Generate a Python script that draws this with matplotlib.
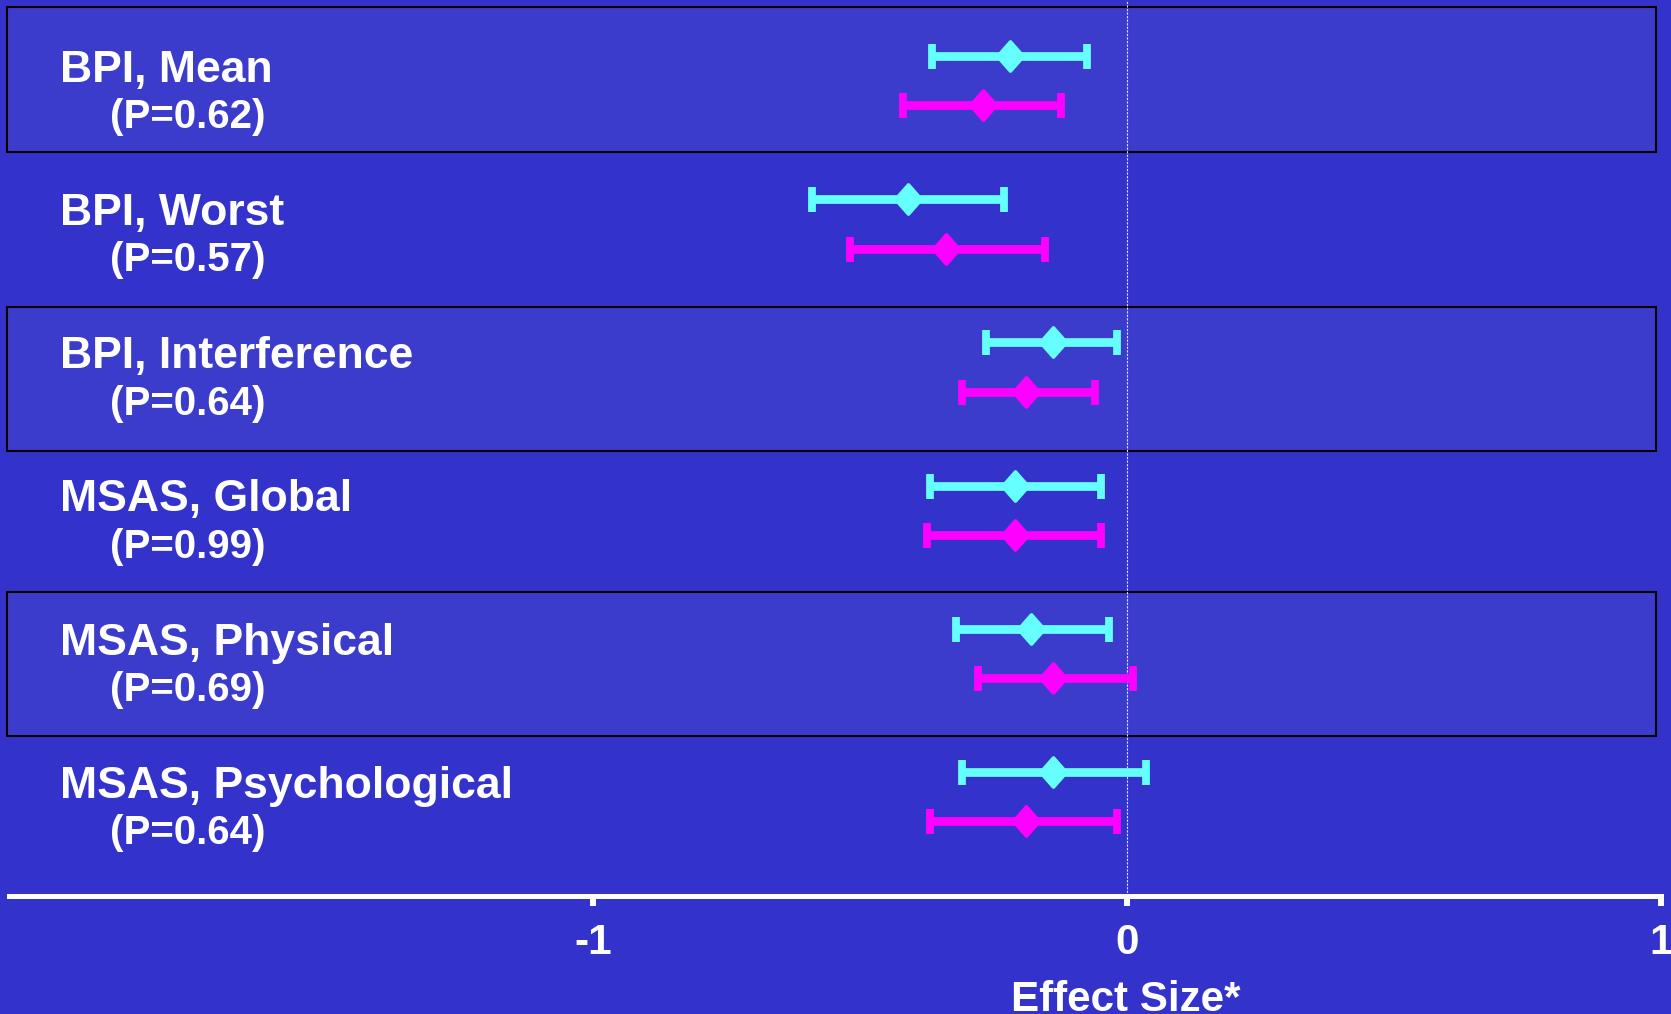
import matplotlib
matplotlib.use("Agg")
import matplotlib.pyplot as plt
from matplotlib.markers import MarkerStyle
from matplotlib.patches import Rectangle
import numpy as np

# ---- data -------------------------------------------------------------
measures = ["BPI, Mean", "BPI, Worst", "BPI, Interference",
            "MSAS, Global", "MSAS, Physical", "MSAS, Psychological"]
p_values = ["(P=0.62)", "(P=0.57)", "(P=0.64)", "(P=0.99)", "(P=0.69)", "(P=0.64)"]

cyan_mean = [-0.22, -0.41, -0.14, -0.21, -0.18, -0.14]
cyan_lo = [-0.365, -0.59, -0.265, -0.37, -0.32, -0.31]
cyan_hi = [-0.075, -0.23, -0.02, -0.05, -0.035, 0.035]

magenta_mean = [-0.27, -0.34, -0.19, -0.21, -0.14, -0.19]
magenta_lo = [-0.42, -0.52, -0.31, -0.375, -0.28, -0.37]
magenta_hi = [-0.125, -0.155, -0.06, -0.05, 0.01, -0.02]

x_ticks = [-1, 0, 1]
x_tick_labels = ["-1", "0", "1"]
x_label = "Effect Size*"

# ---- style ------------------------------------------------------------
BG = "#3333CC"
BAND = "#3C3CCC"
CYAN = "#66FFFF"
MAGENTA = "#FF00FF"
FONT = "Liberation Sans"

W, H, DPI = 1671, 1014, 100
fig = plt.figure(figsize=(W / DPI, H / DPI), dpi=DPI, facecolor=BG)

# axes: bottom spine is the white effect-size axis
ax_left_px, ax_right_px, ax_bottom_px = 8.5, 1661.0, 895.7
ax = fig.add_axes([ax_left_px / W, (H - ax_bottom_px) / H,
                   (ax_right_px - ax_left_px) / W, ax_bottom_px / H])
ax.set_facecolor(BG)
ax.set_xlim(-2.096, 1.0)
ax.set_ylim(5.691, -0.5636)

for side in ("top", "left", "right"):
    ax.spines[side].set_visible(False)
ax.spines["bottom"].set_color("white")
ax.spines["bottom"].set_linewidth(3.6)
ax.set_yticks([])
ax.set_xticks(x_ticks)
ax.set_xticklabels(x_tick_labels, fontsize=30.5, fontweight="bold",
                   color="white", family=FONT)
ax.tick_params(axis="x", direction="out", length=7.5, width=4.3,
               color="white", pad=12.5)

# alternating framed bands
band_spans = [(-0.513, 0.496), (1.578, 2.584), (3.5705, 4.574)]
for top, bottom in band_spans:
    ax.add_patch(Rectangle((-2.098, top), 0.99 + 2.098, bottom - top,
                           facecolor=BAND, edgecolor="black",
                           linewidth=1.5, zorder=0.5, clip_on=False))

# zero reference line
ax.axvline(0, color="#E0E0FF", linewidth=0.8, linestyle=(0, (2, 1.2)), zorder=1)

diamond = MarkerStyle(np.array([(-0.88, 0.0), (0.0, 1.0), (0.88, 0.0),
                                (0.0, -1.0), (-0.88, 0.0)]),
                      joinstyle="round")

rows = np.arange(len(measures))
offset = 0.1725
series = [
    (cyan_mean, cyan_lo, cyan_hi, CYAN, -offset),
    (magenta_mean, magenta_lo, magenta_hi, MAGENTA, offset),
]
for mean, lo, hi, color, dy in series:
    mean = np.asarray(mean)
    err = [mean - np.asarray(lo), np.asarray(hi) - mean]
    # capsize is half the cap length in errorbar
    ax.errorbar(mean, rows + dy, xerr=err, fmt="none", ecolor=color,
                elinewidth=6.3, capsize=9, capthick=5.6, zorder=3)
    ax.plot(mean, rows + dy, linestyle="none", marker=diamond,
            markersize=21, markerfacecolor=color, markeredgecolor=color,
            markeredgewidth=2.6, zorder=4)

# row labels
for i, (name, p) in enumerate(zip(measures, p_values)):
    ax.text(-2.0, i + 0.007, name, fontsize=32, fontweight="bold",
            color="white", family=FONT, va="baseline", ha="left", zorder=5)
    ax.text(-1.905, i + 0.332, p, fontsize=29, fontweight="bold",
            color="white", family=FONT, va="baseline", ha="left", zorder=5)

# axis title under the zero tick
fig.text(1126 / W, (H - 1011) / H, x_label, fontsize=30.3, fontweight="bold",
         color="white", family=FONT, ha="center", va="baseline")

fig.savefig("out.png", dpi=DPI, facecolor=BG)
